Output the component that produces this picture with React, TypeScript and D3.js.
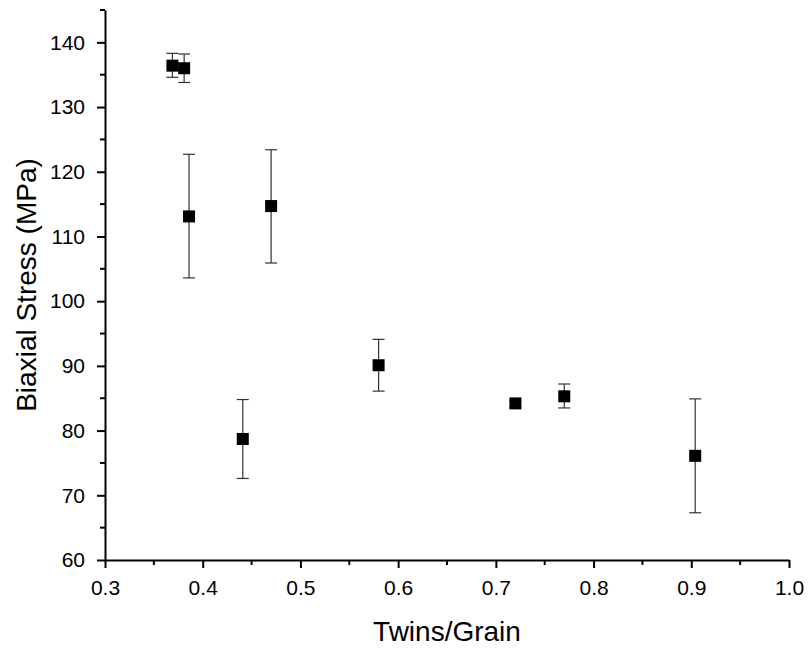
import React, { useEffect, useRef } from "react";
import * as d3 from "d3";

// twins per grain vs biaxial stress
const twins = [0.369, 0.381, 0.386, 0.47, 0.441, 0.58, 0.72, 0.77, 0.904];
const stress = [136.4, 136.0, 113.1, 114.7, 78.7, 90.1, 84.2, 85.3, 76.1];
const errLow = [134.6, 133.8, 103.6, 105.9, 72.6, 86.1, 83.7, 83.5, 67.3];
const errHigh = [138.3, 138.2, 122.7, 123.4, 84.8, 94.1, 84.7, 87.2, 84.9];

const xTicks = [0.3, 0.4, 0.5, 0.6, 0.7, 0.8, 0.9, 1.0];
const yTicks = [60, 70, 80, 90, 100, 110, 120, 130, 140];

const W = 810;
const H = 650;
const m = { left: 105, right: 21, top: 10, bottom: 90 };

export default function App() {
  const ref = useRef<SVGSVGElement>(null);

  useEffect(() => {
    const svg = d3.select(ref.current);
    svg.selectAll("*").remove();
    const font = "'Liberation Sans', Arial, sans-serif";

    const x = d3.scaleLinear().domain([0.3, 1.0]).range([m.left, W - m.right]);
    const y = d3.scaleLinear().domain([60, 145]).range([H - m.bottom, m.top]);

    const g = svg.append("g");

    // error bars
    const data = twins.map((t, i) => ({ t, s: stress[i], lo: errLow[i], hi: errHigh[i] }));
    const eb = g.selectAll("g.eb").data(data).enter().append("g");
    eb.append("line")
      .attr("x1", d => x(d.t)).attr("x2", d => x(d.t))
      .attr("y1", d => y(d.lo)).attr("y2", d => y(d.hi))
      .attr("stroke", "#333").attr("stroke-width", 1.2);
    [d => d.lo, d => d.hi].forEach((f: any) => {
      eb.append("line")
        .attr("x1", d => x(d.t) - 6).attr("x2", d => x(d.t) + 6)
        .attr("y1", d => y(f(d))).attr("y2", d => y(f(d)))
        .attr("stroke", "#333").attr("stroke-width", 1.2);
    });
    eb.append("rect")
      .attr("x", d => x(d.t) - 6).attr("y", d => y(d.s) - 6)
      .attr("width", 12).attr("height", 12)
      .attr("fill", "#000");

    // x axis
    const xa = g.append("g").attr("transform", `translate(0,${H - m.bottom})`);
    xa.call(d3.axisBottom(x).tickValues(xTicks).tickSize(8).tickSizeOuter(0).tickFormat(d3.format(".1f")) as any);
    xa.append("g").selectAll("line").data(d3.range(0.35, 1.0, 0.1)).enter().append("line")
      .attr("x1", d => x(d)).attr("x2", d => x(d)).attr("y1", 0).attr("y2", 5)
      .attr("stroke", "#000").attr("stroke-width", 2);

    // y axis
    const ya = g.append("g").attr("transform", `translate(${m.left},0)`);
    ya.call(d3.axisLeft(y).tickValues(yTicks).tickSize(8).tickSizeOuter(0) as any);
    ya.append("g").selectAll("line").data(d3.range(65, 146, 10)).enter().append("line")
      .attr("x1", 0).attr("x2", -5).attr("y1", d => y(d)).attr("y2", d => y(d))
      .attr("stroke", "#000").attr("stroke-width", 2);

    [xa, ya].forEach(a => {
      a.select(".domain").attr("stroke-width", 2);
      a.selectAll(".tick line").attr("stroke-width", 2);
      a.selectAll(".tick text").attr("font-family", font).attr("font-size", 21).attr("fill", "#000");
    });
    xa.selectAll(".tick text").attr("y", 35).attr("dy", 0);
    ya.selectAll(".tick text").attr("x", -20);

    g.append("text")
      .attr("x", (m.left + W - m.right) / 2).attr("y", 641)
      .attr("text-anchor", "middle")
      .attr("font-family", font).attr("font-size", 28)
      .text("Twins/Grain");

    g.append("text")
      .attr("transform", `translate(36,${(m.top + H - m.bottom) / 2}) rotate(-90)`)
      .attr("text-anchor", "middle")
      .attr("font-family", font).attr("font-size", 28)
      .text("Biaxial Stress (MPa)");
  }, []);

  return (
    <svg ref={ref} width={W} height={H}
      style={{ position: "absolute", left: 0, top: 0, background: "#fff" }} />
  );
}
